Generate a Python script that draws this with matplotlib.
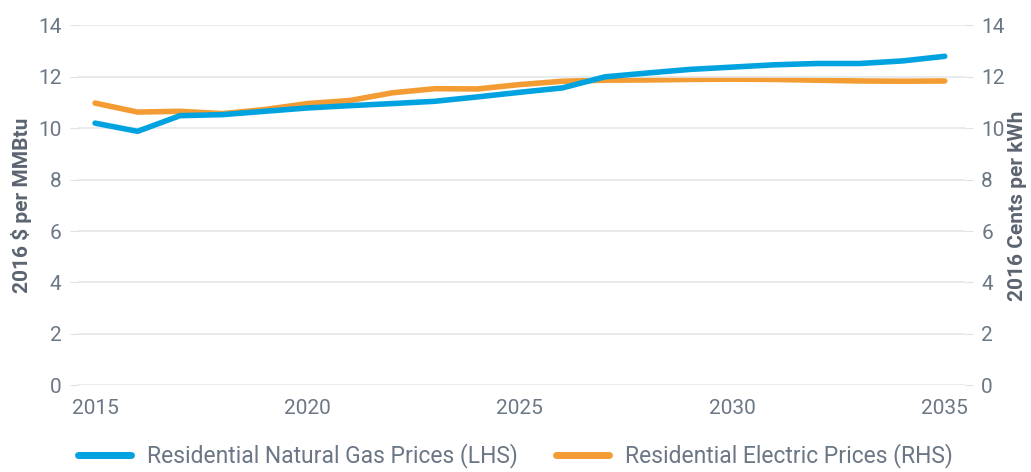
import matplotlib.pyplot as plt
import matplotlib.lines as mlines

# Residential price outlook, 2015-2035
years = list(range(2015, 2036))
gas_prices = [10.2, 9.88, 10.49, 10.53, 10.66, 10.79, 10.88, 10.96, 11.05, 11.22, 11.4,
              11.57, 12.0, 12.15, 12.29, 12.38, 12.47, 12.52, 12.52, 12.62, 12.8]
elec_prices = [10.98, 10.63, 10.66, 10.57, 10.73, 10.96, 11.08, 11.38, 11.54, 11.53, 11.7,
               11.83, 11.87, 11.88, 11.9, 11.91, 11.9, 11.87, 11.84, 11.83, 11.84]
yticks = [0, 2, 4, 6, 8, 10, 12, 14]
xticks = [2015, 2020, 2025, 2030, 2035]

blue = '#00a3e0'
orange = '#f39c33'
text_gray = '#6b7785'
label_gray = '#5b6470'

plt.rcParams['font.family'] = ['Roboto', 'DejaVu Sans']

fig = plt.figure(figsize=(10.31, 4.72), dpi=100)
ax = fig.add_axes([0.0757, 0.184, 0.860, 0.762])
ax2 = ax.twinx()

ax.plot(years, gas_prices, color=blue, lw=4, solid_capstyle='round', zorder=3)
ax2.plot(years, elec_prices, color=orange, lw=4, solid_capstyle='round', zorder=3)

for a in (ax, ax2):
    a.set_ylim(0, 14)
    a.set_yticks(yticks)
    a.set_xlim(2014.6, 2035.47)
    for s in a.spines.values():
        s.set_visible(False)
    a.tick_params(axis='y', length=6, color='#dfe3e8', labelsize=15, labelcolor=text_gray, pad=6)

ax.set_zorder(2)
ax.patch.set_visible(False)
ax2.set_zorder(1)

ax.set_xticks(xticks)
ax.tick_params(axis='x', length=0, labelsize=15, labelcolor=text_gray, pad=10)
ax.grid(axis='y', color='#e3e7eb', lw=1.2)
ax.set_axisbelow(True)

ax.set_ylabel('2016 $ per MMBtu', fontsize=15, color=label_gray, fontweight='bold', labelpad=4)
ax2.set_ylabel('2016 Cents per kWh', fontsize=15, color=label_gray, fontweight='bold', labelpad=2)

h1 = mlines.Line2D([], [], color=blue, lw=5, solid_capstyle='round')
h2 = mlines.Line2D([], [], color=orange, lw=5, solid_capstyle='round')
leg = fig.legend([h1, h2], ['Residential Natural Gas Prices (LHS)', 'Residential Electric Prices (RHS)'],
                 loc='lower center', bbox_to_anchor=(0.5, -0.036), ncol=2, frameon=False,
                 fontsize=16.5, handlelength=2.3, handletextpad=0.7, columnspacing=1.7)
for t in leg.get_texts():
    t.set_color(text_gray)

fig.savefig('out.png', dpi=100)
